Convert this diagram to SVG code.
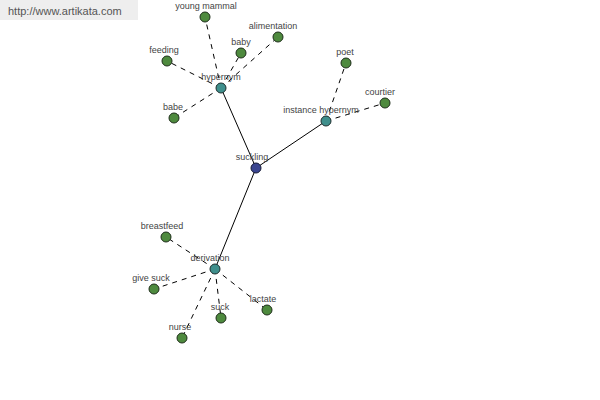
<svg xmlns="http://www.w3.org/2000/svg" width="600" height="400" viewBox="0 0 600 400">
<style>
.lbl{font-family:"Liberation Sans",Arial,sans-serif;font-size:9px;fill:#444;text-anchor:middle}
.leaf{fill:#4e8a3e;stroke:#1e2e1a;stroke-width:1}
.hub{fill:#3f8f8c;stroke:#1e2e2e;stroke-width:1}
.root{fill:#3a4590;stroke:#151a35;stroke-width:1}
.solid{stroke:#000;stroke-width:1;fill:none}
.dash{stroke:#000;stroke-width:1;fill:none;stroke-dasharray:5,5}
</style>
<rect x="0" y="0" width="138" height="20" fill="#eeeeee"/>
<text x="8" y="15" font-family="Liberation Sans,Arial,sans-serif" font-size="11" fill="#555">http://www.artikata.com</text>
<g id="connectors">
<line class="solid" x1="256" y1="168" x2="221" y2="88"/>
<line class="solid" x1="256" y1="168" x2="326" y2="121"/>
<line class="solid" x1="256" y1="168" x2="215" y2="269"/>
<line class="dash" x1="221" y1="88" x2="205" y2="17"/>
<line class="dash" x1="221" y1="88" x2="241" y2="53"/>
<line class="dash" x1="221" y1="88" x2="278" y2="37"/>
<line class="dash" x1="221" y1="88" x2="167" y2="61"/>
<line class="dash" x1="221" y1="88" x2="174" y2="118"/>
<line class="dash" x1="326" y1="121" x2="346" y2="63"/>
<line class="dash" x1="326" y1="121" x2="385" y2="103"/>
<line class="dash" x1="215" y1="269" x2="166" y2="237"/>
<line class="dash" x1="215" y1="269" x2="154" y2="289"/>
<line class="dash" x1="215" y1="269" x2="182" y2="338"/>
<line class="dash" x1="215" y1="269" x2="221" y2="318"/>
<line class="dash" x1="215" y1="269" x2="267" y2="310"/>
</g>
<g id="young-mammal"><circle class="leaf" cx="205" cy="17" r="5"/><text class="lbl" x="206" y="9">young mammal</text></g>
<g id="baby"><circle class="leaf" cx="241" cy="53" r="5"/><text class="lbl" x="241" y="45">baby</text></g>
<g id="alimentation"><circle class="leaf" cx="278" cy="37" r="5"/><text class="lbl" x="273" y="29">alimentation</text></g>
<g id="feeding"><circle class="leaf" cx="167" cy="61" r="5"/><text class="lbl" x="164" y="53">feeding</text></g>
<g id="babe"><circle class="leaf" cx="174" cy="118" r="5"/><text class="lbl" x="173" y="110">babe</text></g>
<g id="poet"><circle class="leaf" cx="346" cy="63" r="5"/><text class="lbl" x="345" y="55">poet</text></g>
<g id="courtier"><circle class="leaf" cx="385" cy="103" r="5"/><text class="lbl" x="380" y="95">courtier</text></g>
<g id="breastfeed"><circle class="leaf" cx="166" cy="237" r="5"/><text class="lbl" x="162" y="229">breastfeed</text></g>
<g id="give-suck"><circle class="leaf" cx="154" cy="289" r="5"/><text class="lbl" x="151" y="281">give suck</text></g>
<g id="nurse"><circle class="leaf" cx="182" cy="338" r="5"/><text class="lbl" x="180" y="330">nurse</text></g>
<g id="suck"><circle class="leaf" cx="221" cy="318" r="5"/><text class="lbl" x="220" y="310">suck</text></g>
<g id="lactate"><circle class="leaf" cx="267" cy="310" r="5"/><text class="lbl" x="263" y="302">lactate</text></g>
<g id="hypernym"><circle class="hub" cx="221" cy="88" r="5"/><text class="lbl" x="221" y="80">hypernym</text></g>
<g id="instance-hypernym"><circle class="hub" cx="326" cy="121" r="5"/><text class="lbl" x="321" y="113">instance hypernym</text></g>
<g id="derivation"><circle class="hub" cx="215" cy="269" r="5"/><text class="lbl" x="210" y="261">derivation</text></g>
<g id="suckling"><circle class="root" cx="256" cy="168" r="5"/><text class="lbl" x="252" y="160">suckling</text></g>
</svg>
